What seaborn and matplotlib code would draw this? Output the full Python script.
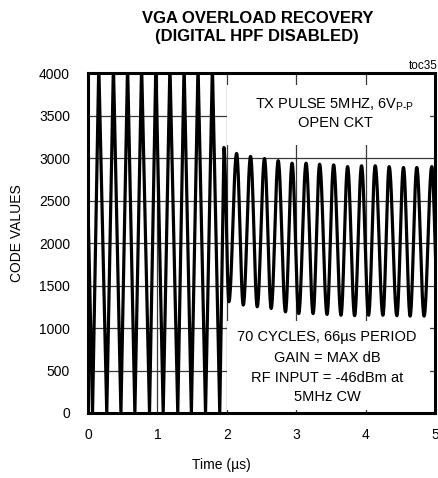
import numpy as np
import pandas as pd
import matplotlib
matplotlib.use("Agg")
import matplotlib.pyplot as plt
from matplotlib.patches import Rectangle
import seaborn as sns

# ---- data ----
# saturated section (before 2 us): extrema times (us) and code values
left_peak_t = [-0.045, 0.155, 0.366, 0.570, 0.772, 0.977, 1.180, 1.384, 1.585, 1.792]
left_peak_v = [4095] * 10
left_trough_t = [0.065, 0.270, 0.474, 0.675, 0.886, 1.083, 1.293, 1.489, 1.693, 1.898]
left_trough_v = [0] * 10
# recovering section (after 2 us)
right_peak_t = [1.958, 2.141, 2.342, 2.543, 2.740, 2.940, 3.142, 3.337, 3.539, 3.740,
                3.941, 4.138, 4.339, 4.545, 4.737, 4.953]
right_peak_v = [3125, 3055, 3020, 2995, 2970, 2940, 2940, 2928, 2920, 2900,
                2910, 2910, 2900, 2890, 2890, 2900]
right_trough_t = [2.030, 2.237, 2.438, 2.639, 2.845, 3.036, 3.243, 3.444, 3.645, 3.841,
                  4.042, 4.249, 4.450, 4.641, 4.842, 5.045]
right_trough_v = [1310, 1270, 1250, 1230, 1190, 1170, 1170, 1160, 1150, 1145,
                  1150, 1150, 1145, 1140, 1140, 1140]

x_ticks = [0, 1, 2, 3, 4, 5]
y_ticks = [0, 500, 1000, 1500, 2000, 2500, 3000, 3500, 4000]

# ---- build trace: straight strokes in the clipped part, sinusoidal between
#      the read extrema in the recovering part ----
ext = sorted(list(zip(left_peak_t, left_peak_v)) + list(zip(left_trough_t, left_trough_v)) +
             list(zip(right_peak_t, right_peak_v)) + list(zip(right_trough_t, right_trough_v)))
ts, vs = [], []
for (t0, v0), (t1, v1) in zip(ext[:-1], ext[1:]):
    if t0 >= 1.95:
        u = np.linspace(0, 1, 25, endpoint=False)
        w = (1 - np.cos(np.pi * u)) / 2
    else:
        u = np.array([0.0])
        w = u
    ts.extend(t0 + (t1 - t0) * u)
    vs.extend(v0 + (v1 - v0) * w)
ts.append(ext[-1][0]); vs.append(ext[-1][1])
df = pd.DataFrame({"t": ts, "v": vs})

sns.set_style("white")
plt.rcParams["font.family"] = ["Liberation Sans", "DejaVu Sans"]
plt.rcParams["mathtext.fontset"] = "custom"
plt.rcParams["mathtext.rm"] = "Liberation Sans"
plt.rcParams["text.color"] = "black"
plt.rcParams["axes.labelcolor"] = "black"
plt.rcParams["xtick.color"] = "black"
plt.rcParams["ytick.color"] = "black"

fig = plt.figure(figsize=(4.39, 4.78), dpi=100)
ax = fig.add_axes([0.2005, 0.136, 0.7905, 0.711])

sns.lineplot(data=df, x="t", y="v", ax=ax, color="black", lw=2.3,
             estimator=None, sort=False, zorder=4)

ax.set_xlim(0, 5)
ax.set_ylim(0, 4000)
ax.set_xticks(x_ticks)
ax.set_xticklabels([str(x) for x in x_ticks])
ax.set_yticks(y_ticks)
ax.set_yticklabels([str(y) for y in y_ticks])
ax.tick_params(axis="both", length=0, labelsize=10, colors="black")
ax.tick_params(axis="y", pad=13)
ax.tick_params(axis="x", pad=11)
ax.grid(True, color="#3a3a3a", lw=0.9)
ax.set_axisbelow(True)
for s in ax.spines.values():
    s.set_color("black")
    s.set_linewidth(2.2)
    s.set_zorder(6)

# white annotation boxes hiding the grid
for (x0, y0, w, h) in [(0.40, 0.788, 0.585, 0.177), (0.40, 0.008, 0.585, 0.262)]:
    ax.add_patch(Rectangle((x0, y0), w, h, transform=ax.transAxes,
                           facecolor="white", edgecolor="none", zorder=2))

ax.text(0.712, 0.906, r"TX PULSE 5MHZ, 6V$_{\text{P-P}}$", transform=ax.transAxes,
        ha="center", va="center", fontsize=10.5, color="black", zorder=5)
ax.text(0.712, 0.853, "OPEN CKT", transform=ax.transAxes,
        ha="center", va="center", fontsize=10.5, color="black", zorder=5)
for txt, yy in [("70 CYCLES, 66µs PERIOD", 0.224), ("GAIN = MAX dB", 0.162),
                ("RF INPUT = -46dBm at", 0.103), ("5MHz CW", 0.047)]:
    ax.text(0.689, yy, txt, transform=ax.transAxes, ha="center", va="center",
            fontsize=10.5, color="black", zorder=5)

ax.set_xlabel("Time (µs)", fontsize=10, color="black")
ax.xaxis.set_label_coords(0.383, -0.153)
ax.xaxis.label.set_va("center")
ax.set_ylabel("CODE VALUES", fontsize=10, color="black")
ax.yaxis.set_label_coords(-0.205, 0.53)
ax.yaxis.label.set_va("center")

fig.text(0.586, 1 - 18.5 / 478, "VGA OVERLOAD RECOVERY", ha="center", va="center",
         fontsize=12, fontweight="bold", color="black")
fig.text(0.586, 1 - 36 / 478, "(DIGITAL HPF DISABLED)", ha="center", va="center",
         fontsize=12, fontweight="bold", color="black")
fig.text(0.996, 1 - 66 / 478, "toc35", ha="right", va="center", fontsize=8.5,
         color="black")

fig.savefig("out.png", dpi=100)
